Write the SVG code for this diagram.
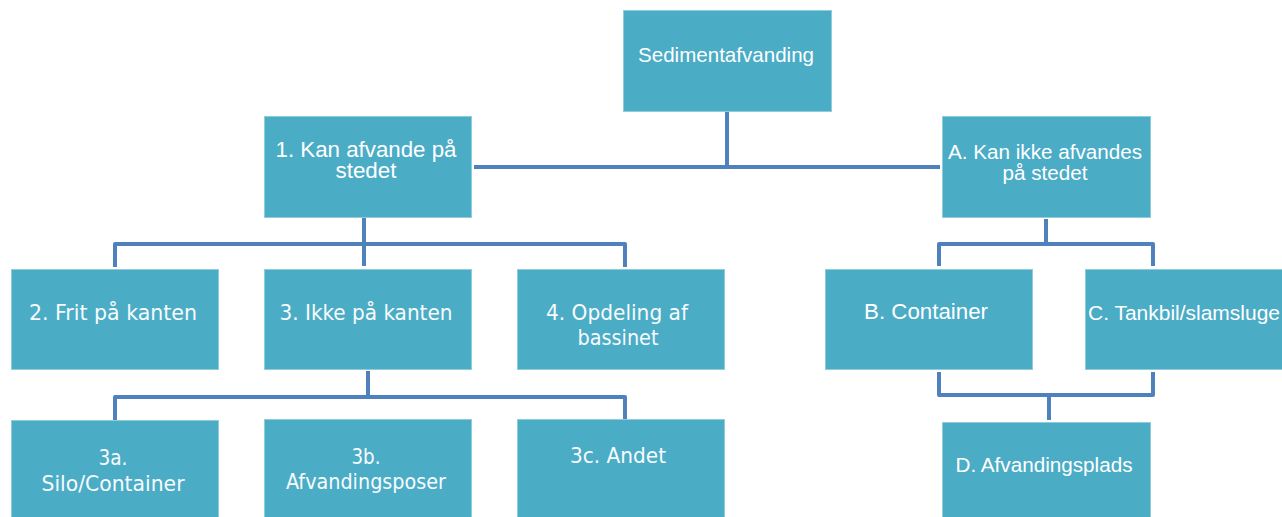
<svg xmlns="http://www.w3.org/2000/svg" width="1282" height="517" viewBox="0 0 1282 517">
<style>
.box{fill:#4BACC6;stroke:#8FCDDD;stroke-width:1}
.a{font-family:"Liberation Sans",Arial,sans-serif;fill:#FFFFFF;text-anchor:middle}
.t{font-family:"DejaVu Sans Condensed","DejaVu Sans",sans-serif;font-stretch:condensed;fill:#F7FBFD;text-anchor:middle;font-size:21px}
.c{fill:none;stroke:#4F81BD;stroke-width:4;stroke-linejoin:round;stroke-linecap:butt}
</style>
<rect width="1282" height="517" fill="#FFFFFF"/>
<g id="connectors">
<path class="c" d="M727,112 V167"/>
<path class="c" d="M474,167 H940"/>
<path class="c" d="M364,218 V266"/>
<path class="c" d="M115,267 V244 H625 V267"/>
<path class="c" d="M368,371 V397"/>
<path class="c" d="M115,420 V397 H625 V420"/>
<path class="c" d="M1046,219 V244"/>
<path class="c" d="M939,266 V244 H1153 V266"/>
<path class="c" d="M939,372 V395 H1153 V372"/>
<path class="c" d="M1049,395 V420"/>
</g>
<g id="sediment">
<rect class="box" x="623.5" y="10.5" width="208" height="101"/>
<text class="a" x="726" y="62" font-size="21" textLength="176" lengthAdjust="spacingAndGlyphs">Sedimentafvanding</text>
</g>
<g id="n1">
<rect class="box" x="264.5" y="116.5" width="207" height="101"/>
<text class="a" x="366" y="157" font-size="21.5" textLength="181" lengthAdjust="spacingAndGlyphs">1. Kan afvande på</text>
<text class="a" x="366" y="178" font-size="21.5" textLength="61" lengthAdjust="spacingAndGlyphs">stedet</text>
</g>
<g id="nA">
<rect class="box" x="942.5" y="116.5" width="208" height="101"/>
<text class="a" x="1045" y="159" font-size="20.5" textLength="194" lengthAdjust="spacingAndGlyphs">A. Kan ikke afvandes</text>
<text class="a" x="1045" y="180" font-size="20.5" textLength="85" lengthAdjust="spacingAndGlyphs">på stedet</text>
</g>
<g id="n2">
<rect class="box" x="11.5" y="269.5" width="207" height="100"/>
<text class="t" x="113" y="320" textLength="168" lengthAdjust="spacingAndGlyphs">2. Frit på kanten</text>
</g>
<g id="n3">
<rect class="box" x="264.5" y="269.5" width="207" height="100"/>
<text class="t" x="366" y="320" textLength="173" lengthAdjust="spacingAndGlyphs">3. Ikke på kanten</text>
</g>
<g id="n4">
<rect class="box" x="517.5" y="269.5" width="207" height="100"/>
<text class="t" x="617" y="320" textLength="142" lengthAdjust="spacingAndGlyphs">4. Opdeling af</text>
<text class="t" x="618" y="345" textLength="81" lengthAdjust="spacingAndGlyphs">bassinet</text>
</g>
<g id="nB">
<rect class="box" x="825.5" y="269.5" width="207" height="100"/>
<text class="a" x="926" y="319" font-size="22" textLength="124" lengthAdjust="spacingAndGlyphs">B. Container</text>
</g>
<g id="nC">
<rect class="box" x="1085.5" y="269.5" width="207" height="100"/>
<text class="a" x="1184" y="320" font-size="20.5" textLength="192" lengthAdjust="spacingAndGlyphs">C. Tankbil/slamsluge</text>
</g>
<g id="n3a">
<rect class="box" x="11.5" y="420.5" width="207" height="101"/>
<text class="t" x="113" y="465" textLength="29" lengthAdjust="spacingAndGlyphs">3a.</text>
<text class="t" x="113" y="491" textLength="143" lengthAdjust="spacingAndGlyphs">Silo/Container</text>
</g>
<g id="n3b">
<rect class="box" x="264.5" y="419.5" width="207" height="101"/>
<text class="t" x="366" y="464" textLength="29" lengthAdjust="spacingAndGlyphs">3b.</text>
<text class="t" x="366" y="489" textLength="160" lengthAdjust="spacingAndGlyphs">Afvandingsposer</text>
</g>
<g id="n3c">
<rect class="box" x="517.5" y="419.5" width="207" height="101"/>
<text class="t" x="618" y="463" textLength="96" lengthAdjust="spacingAndGlyphs">3c. Andet</text>
</g>
<g id="nD">
<rect class="box" x="942.5" y="422.5" width="208" height="101"/>
<text class="a" x="1044" y="472" font-size="20.5" textLength="177" lengthAdjust="spacingAndGlyphs">D. Afvandingsplads</text>
</g>
</svg>
